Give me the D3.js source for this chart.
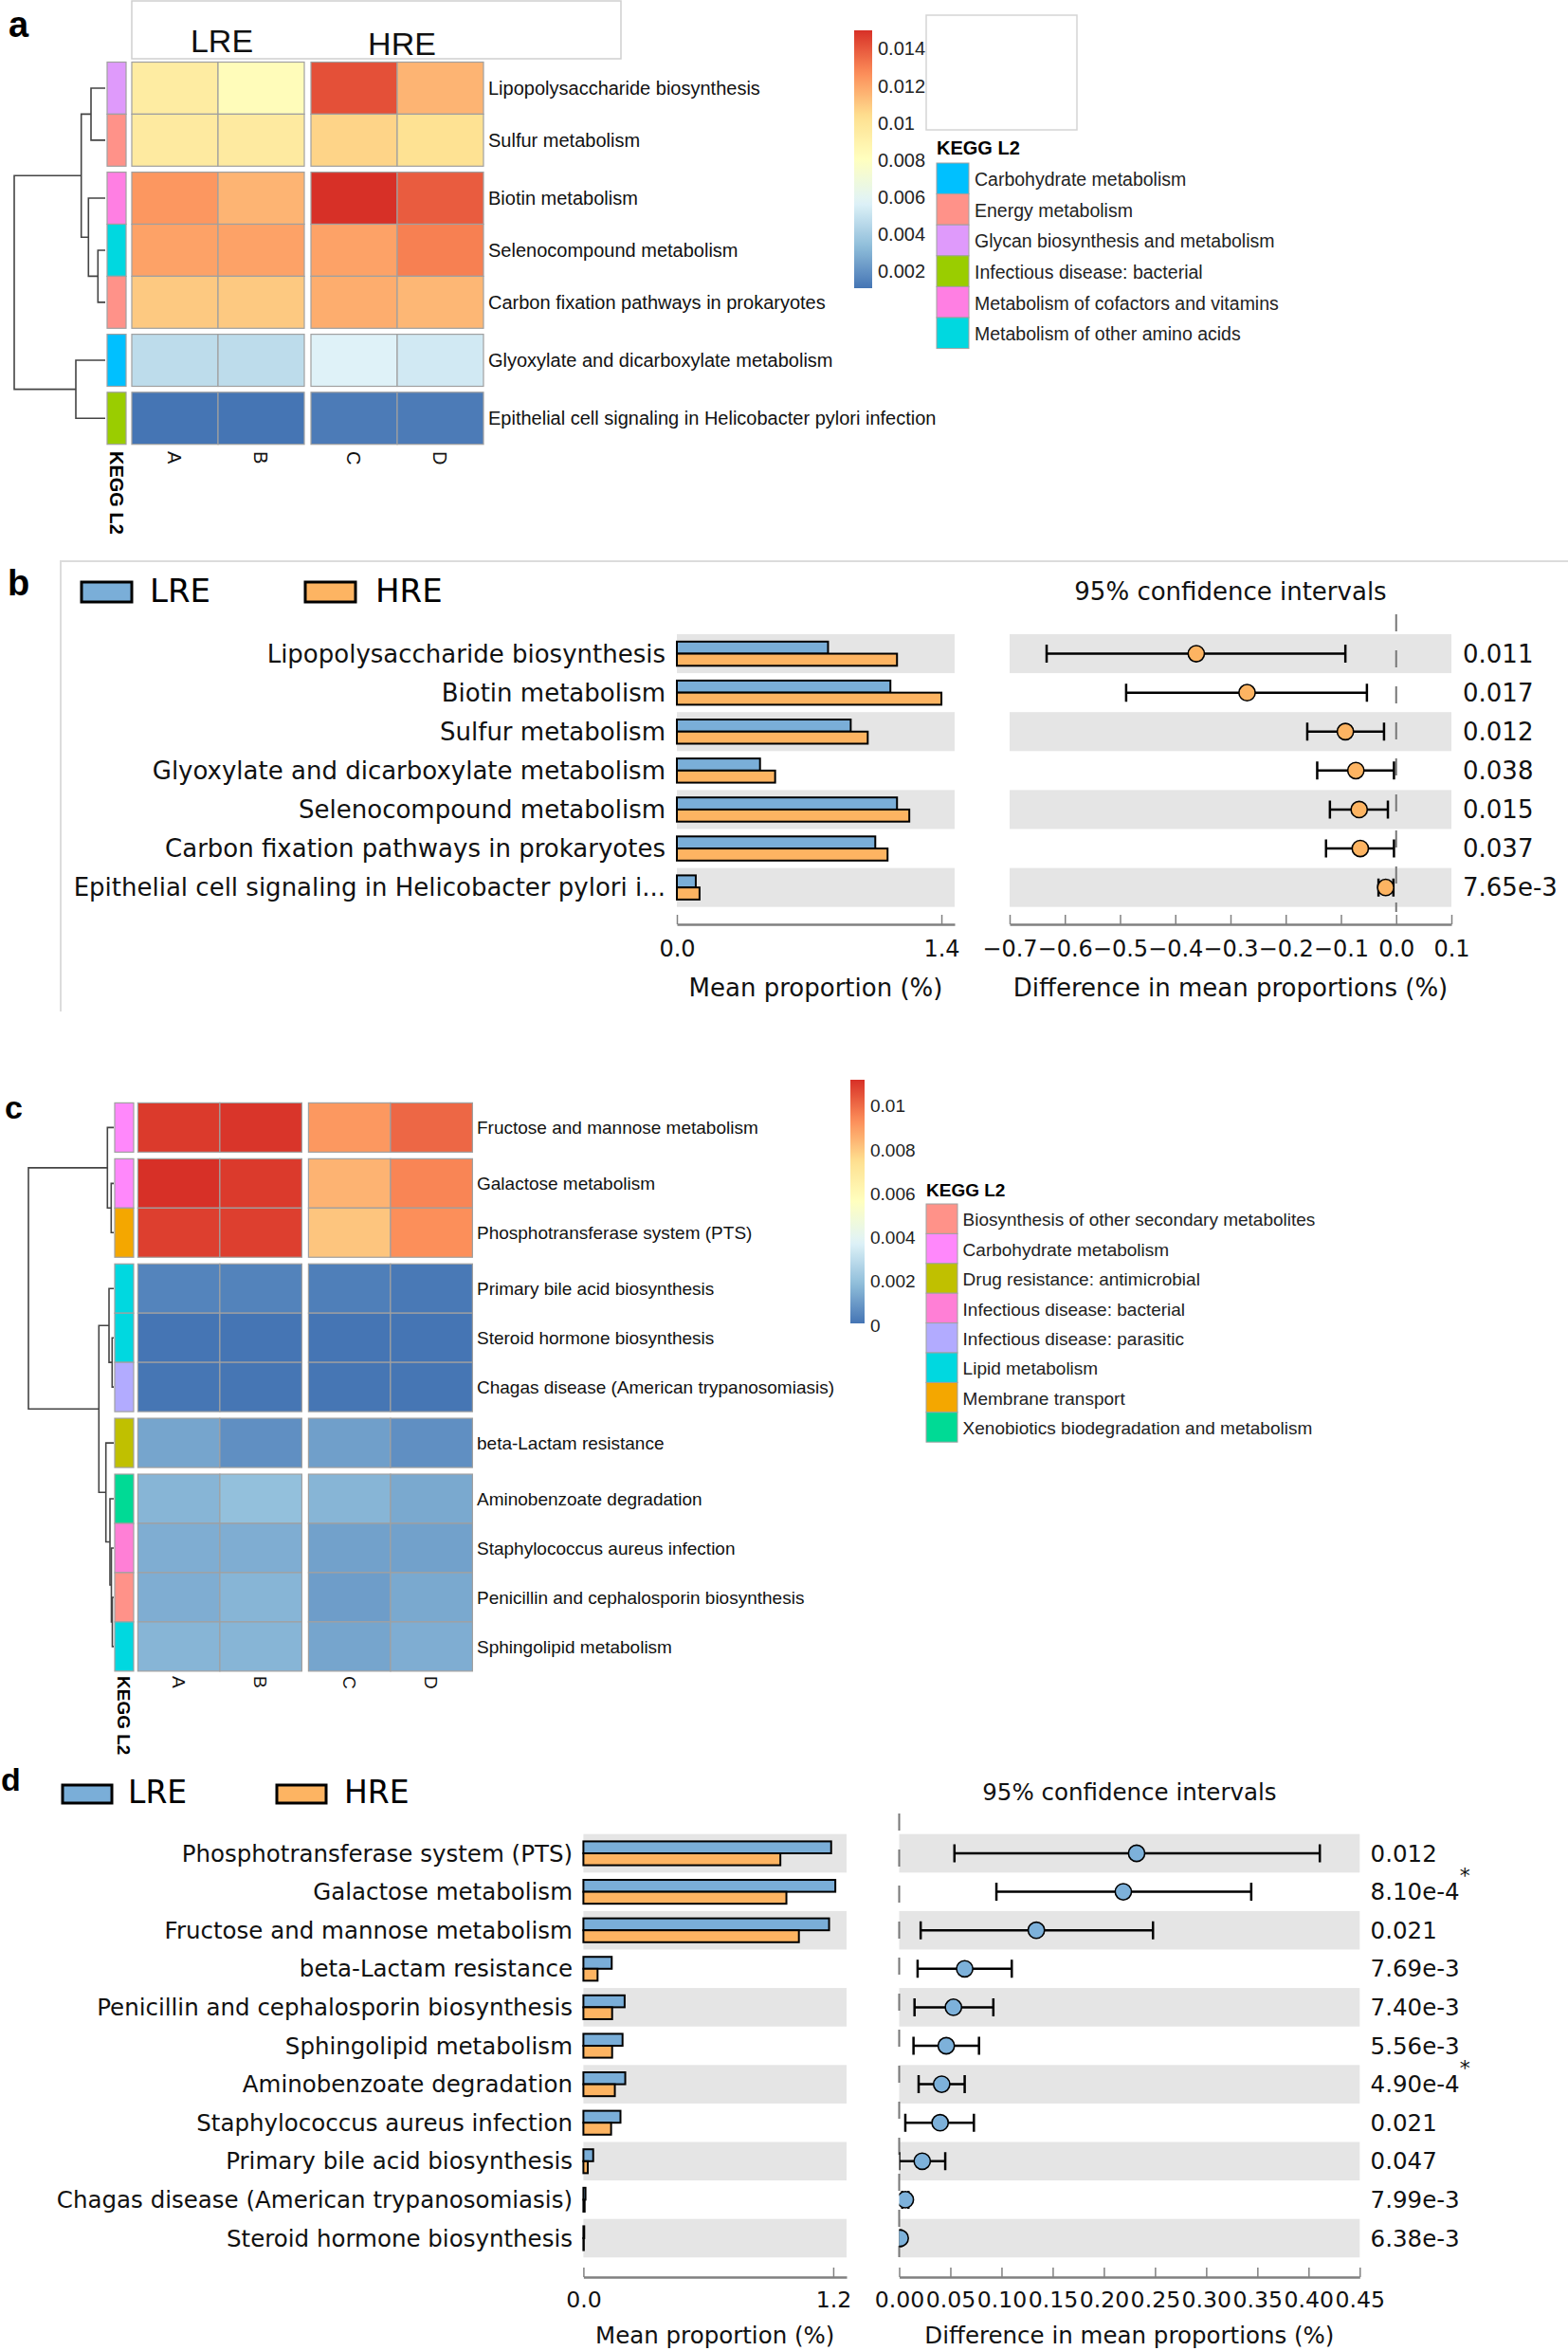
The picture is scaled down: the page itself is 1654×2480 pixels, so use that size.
<!DOCTYPE html>
<html><head><meta charset="utf-8">
<script src="https://cdn.jsdelivr.net/npm/d3@7"></script>
<style>html,body{margin:0;padding:0;background:#fff;} svg{display:block;}</style>
</head><body>
<svg id="fig" width="1654" height="2480"></svg>
<script>
// ================= DATA =================
const samples = ["A", "B", "C", "D"];
const groups = ["LRE", "HRE"];
const heatPalette = ["#4575B4", "#91BFDB", "#E0F3F8", "#FFFFBF", "#FEE090", "#FC8D59", "#D73027"];

// ---- panel a (heatmap) ----
const aPathways = ["Lipopolysaccharide biosynthesis", "Sulfur metabolism", "Biotin metabolism",
  "Selenocompound metabolism", "Carbon fixation pathways in prokaryotes",
  "Glyoxylate and dicarboxylate metabolism", "Epithelial cell signaling in Helicobacter pylori infection"];
const aValues = [
  [0.0095, 0.0083, 0.0142, 0.0116],
  [0.0096, 0.0096, 0.0107, 0.0102],
  [0.0124, 0.0116, 0.0150, 0.0139],
  [0.0121, 0.0121, 0.0121, 0.0130],
  [0.0110, 0.0110, 0.0118, 0.0115],
  [0.0047, 0.0047, 0.0057, 0.0053],
  [0.0011, 0.0011, 0.0013, 0.0013]
];
const aKeggCategories = ["Carbohydrate metabolism", "Energy metabolism", "Glycan biosynthesis and metabolism",
  "Infectious disease: bacterial", "Metabolism of cofactors and vitamins", "Metabolism of other amino acids"];
const aKeggColors = ["#00C0FF", "#FF9289", "#DF9AFB", "#9ACD00", "#FF7FE3", "#00D8E0"];
const aRowKegg = ["Glycan biosynthesis and metabolism", "Energy metabolism", "Metabolism of cofactors and vitamins",
  "Metabolism of other amino acids", "Energy metabolism", "Carbohydrate metabolism", "Infectious disease: bacterial"];
const aColorTicks = [0.002, 0.004, 0.006, 0.008, 0.01, 0.012, 0.014];
const aRowGaps = [2, 5, 6];
const aMerge = [[-4, -5], [-1, -2], [-3, 1], [2, 3], [-6, -7], [4, 5]];
const aMergeHeight = [7.7, 15, 17.7, 25.3, 31, 96];

// ---- panel c (heatmap) ----
const cPathways = ["Fructose and mannose metabolism", "Galactose metabolism", "Phosphotransferase system (PTS)",
  "Primary bile acid biosynthesis", "Steroid hormone biosynthesis", "Chagas disease (American trypanosomiasis)",
  "beta-Lactam resistance", "Aminobenzoate degradation", "Staphylococcus aureus infection",
  "Penicillin and cephalosporin biosynthesis", "Sphingolipid metabolism"];
const cValues = [
  [0.0110, 0.0111, 0.0091, 0.0101],
  [0.0112, 0.0110, 0.0085, 0.0095],
  [0.0109, 0.0109, 0.0081, 0.0093],
  [0.00047, 0.00045, 0.00035, 0.0002],
  [0.0001, 0.0001, 0.0001, 0.0001],
  [0.00012, 0.00012, 0.00012, 0.00012],
  [0.0013, 0.00075, 0.00115, 0.00075],
  [0.0017, 0.0020, 0.0017, 0.0014],
  [0.0015, 0.0015, 0.0012, 0.0012],
  [0.0015, 0.0017, 0.0011, 0.0014],
  [0.0017, 0.0017, 0.0013, 0.0015]
];
const cKeggCategories = ["Biosynthesis of other secondary metabolites", "Carbohydrate metabolism",
  "Drug resistance: antimicrobial", "Infectious disease: bacterial", "Infectious disease: parasitic",
  "Lipid metabolism", "Membrane transport", "Xenobiotics biodegradation and metabolism"];
const cKeggColors = ["#FF9289", "#FF88FB", "#C0C000", "#FF7FD6", "#B2ABFF", "#00D8E0", "#F4A700", "#00DA95"];
const cRowKegg = ["Carbohydrate metabolism", "Carbohydrate metabolism", "Membrane transport", "Lipid metabolism",
  "Lipid metabolism", "Infectious disease: parasitic", "Drug resistance: antimicrobial",
  "Xenobiotics biodegradation and metabolism", "Infectious disease: bacterial",
  "Biosynthesis of other secondary metabolites", "Lipid metabolism"];
const cColorTicks = [0, 0.002, 0.004, 0.006, 0.008, 0.01];
const cRowGaps = [1, 3, 6, 7];
const cMerge = [[-10, -11], [-5, -6], [-9, 1], [-2, -3], [-8, 3], [-4, 2], [-1, 4], [-7, 5], [6, 8], [7, 9]];
const cMergeHeight = [1.5, 1.7, 2.5, 2.7, 4, 5, 6.7, 8.3, 15.7, 90];

// ---- panel b (extended error bar) ----
const bPathways = ["Lipopolysaccharide biosynthesis", "Biotin metabolism", "Sulfur metabolism",
  "Glyoxylate and dicarboxylate metabolism", "Selenocompound metabolism",
  "Carbon fixation pathways in prokaryotes", "Epithelial cell signaling in Helicobacter pylori i..."];
const bLRE = [0.80, 1.13, 0.92, 0.44, 1.165, 1.05, 0.10];
const bHRE = [1.165, 1.40, 1.01, 0.52, 1.23, 1.115, 0.12];
const bDiff = [-0.362, -0.270, -0.092, -0.073, -0.067, -0.065, -0.019];
const bLow = [-0.633, -0.489, -0.161, -0.143, -0.120, -0.127, -0.032];
const bHigh = [-0.092, -0.053, -0.022, -0.004, -0.015, -0.004, -0.005];
const bP = ["0.011", "0.017", "0.012", "0.038", "0.015", "0.037", "7.65e-3"];
const bStar = [false, false, false, false, false, false, false];
const bBarTicks = [0, 1.4];
const bDiffTicks = [-0.7, -0.6, -0.5, -0.4, -0.3, -0.2, -0.1, 0, 0.1];

// ---- panel d (extended error bar) ----
const dPathways = ["Phosphotransferase system (PTS)", "Galactose metabolism", "Fructose and mannose metabolism",
  "beta-Lactam resistance", "Penicillin and cephalosporin biosynthesis", "Sphingolipid metabolism",
  "Aminobenzoate degradation", "Staphylococcus aureus infection", "Primary bile acid biosynthesis",
  "Chagas disease (American trypanosomiasis)", "Steroid hormone biosynthesis"];
const dLRE = [1.19, 1.21, 1.18, 0.136, 0.198, 0.188, 0.201, 0.178, 0.047, 0.010, 0.004];
const dHRE = [0.946, 0.975, 1.035, 0.068, 0.138, 0.138, 0.151, 0.133, 0.021, 0.006, 0.002];
const dDiff = [0.232, 0.219, 0.134, 0.064, 0.053, 0.046, 0.0415, 0.040, 0.0225, 0.006, 0.001];
const dLow = [0.054, 0.095, 0.021, 0.018, 0.015, 0.014, 0.019, 0.006, 0.0, 0.003, 0.0];
const dHigh = [0.411, 0.344, 0.248, 0.110, 0.092, 0.078, 0.064, 0.073, 0.045, 0.009, 0.002];
const dP = ["0.012", "8.10e-4", "0.021", "7.69e-3", "7.40e-3", "5.56e-3", "4.90e-4", "0.021", "0.047", "7.99e-3", "6.38e-3"];
const dStar = [false, true, false, false, false, false, true, false, false, false, false];
const dBarTicks = [0, 1.2];
const dDiffTicks = [0, 0.05, 0.1, 0.15, 0.2, 0.25, 0.3, 0.35, 0.4, 0.45];

// ================= DRAWING =================
const svg = d3.select("#fig");
svg.append("rect").attr("width", 1654).attr("height", 2480).attr("fill", "#fff");
const defs = svg.append("defs");
const ARIAL = "'Liberation Sans', Arial, sans-serif";
const DEJAVU = "'DejaVu Sans', sans-serif";

function panelLetter(t, x, y, fs) {
  svg.append("text").attr("x", x).attr("y", y).attr("font-family", ARIAL).attr("font-weight", "bold")
    .attr("font-size", fs).attr("fill", "#000").text(t);
}

function drawHeatmap(id, o) {
  const g = svg.append("g").attr("id", id);
  const gapsBefore = i => o.gaps.filter(k => k <= i).length;
  const yTop = i => o.top + i * o.rowH + gapsBefore(i) * o.gapH;
  const yMid = i => yTop(i) + o.rowH / 2;
  const xLeft = j => o.left + j * o.colW + (j >= 2 ? o.colGap : 0);
  const ext = d3.extent(o.values.flat());
  const stops = d3.range(heatPalette.length).map(k => ext[0] + k * (ext[1] - ext[0]) / (heatPalette.length - 1));
  const color = d3.scaleLinear().domain(stops).range(heatPalette).interpolate(d3.interpolateRgb);
  const kegg = d3.scaleOrdinal().domain(o.keggCats).range(o.keggColors);

  const cells = [];
  o.values.forEach((row, i) => row.forEach((v, j) => cells.push({ i, j, v })));
  g.selectAll("rect.cell").data(cells).join("rect").attr("class", "cell")
    .attr("x", d => xLeft(d.j)).attr("y", d => yTop(d.i))
    .attr("width", o.colW).attr("height", o.rowH)
    .attr("fill", d => color(d.v)).attr("stroke", "#a0a0a0").attr("stroke-width", 1.2);

  g.selectAll("rect.ann").data(o.rowKegg).join("rect").attr("class", "ann")
    .attr("x", o.stripX).attr("y", (d, i) => yTop(i)).attr("width", o.stripW).attr("height", o.rowH)
    .attr("fill", d => kegg(d)).attr("stroke", "#a0a0a0").attr("stroke-width", 1.2);

  g.selectAll("text.rl").data(o.rows).join("text").attr("class", "rl")
    .attr("x", o.labelX).attr("y", (d, i) => yMid(i)).attr("dy", "0.36em")
    .attr("font-family", ARIAL).attr("font-size", o.fs).attr("fill", "#111").text(d => d);

  g.selectAll("text.cl").data(samples).join("text").attr("class", "cl")
    .attr("transform", (d, j) => `translate(${xLeft(j) + o.colW / 2},${o.colLabelY}) rotate(90)`)
    .attr("dy", "0.36em").attr("font-family", ARIAL).attr("font-size", o.fs).attr("fill", "#111").text(d => d);
  g.append("text")
    .attr("transform", `translate(${o.stripX + o.stripW / 2},${o.colLabelY}) rotate(90)`)
    .attr("dy", "0.36em").attr("font-family", ARIAL).attr("font-weight", "bold")
    .attr("font-size", o.fs).attr("fill", "#000").text("KEGG L2");

  const hx = d3.scaleLinear().domain([0, d3.max(o.heights)]).range([o.leafX, o.rootX]);
  const nodes = [];
  const pos = c => c < 0 ? { x: o.leafX, y: yMid(-c - 1) } : nodes[c - 1];
  const lines = [];
  o.merge.forEach((m, k) => {
    const a = pos(m[0]), b = pos(m[1]);
    const x = hx(o.heights[k]);
    nodes.push({ x, y: (a.y + b.y) / 2 });
    lines.push(`M${a.x},${a.y}H${x}V${b.y}H${b.x}`);
  });
  g.selectAll("path.dend").data(lines).join("path").attr("class", "dend")
    .attr("d", d => d).attr("fill", "none").attr("stroke", "#444").attr("stroke-width", 1.6);

  const cb = o.cbar;
  const cy = d3.scaleLinear().domain(ext).range([cb.bottom, cb.top]);
  const grad = defs.append("linearGradient").attr("id", id + "grad")
    .attr("x1", 0).attr("y1", 1).attr("x2", 0).attr("y2", 0);
  grad.selectAll("stop").data(d3.range(41)).join("stop")
    .attr("offset", k => k / 40)
    .attr("stop-color", k => color(ext[0] + (ext[1] - ext[0]) * k / 40));
  g.append("rect").attr("x", cb.x).attr("y", cb.top).attr("width", cb.w).attr("height", cb.bottom - cb.top)
    .attr("fill", `url(#${id}grad)`);
  g.selectAll("text.cbt").data(o.ticks).join("text").attr("class", "cbt")
    .attr("x", cb.x + cb.w + 6).attr("y", d => cy(d)).attr("dy", "0.34em")
    .attr("font-family", ARIAL).attr("font-size", o.fs).attr("fill", "#222").text(d => String(d));

  const L = o.legend;
  g.append("text").attr("x", L.x).attr("y", L.titleY).attr("font-family", ARIAL).attr("font-weight", "bold")
    .attr("font-size", o.fs).attr("fill", "#000").text("KEGG L2");
  g.selectAll("rect.lg").data(o.keggCats).join("rect").attr("class", "lg")
    .attr("x", L.x).attr("y", (d, i) => L.top + i * L.itemH).attr("width", L.swW).attr("height", L.itemH)
    .attr("fill", d => kegg(d)).attr("stroke", "#a0a0a0").attr("stroke-width", 1);
  g.selectAll("text.lgt").data(o.keggCats).join("text").attr("class", "lgt")
    .attr("x", L.labelX).attr("y", (d, i) => L.top + (i + 0.5) * L.itemH).attr("dy", "0.4em")
    .attr("font-family", ARIAL).attr("font-size", L.fs).attr("fill", "#222").text(d => d);
  return g;
}

function drawStamp(id, o) {
  const g = svg.append("g").attr("id", id);
  const n = o.rows.length;
  const y = d3.scaleBand().domain(d3.range(n)).range([o.top, o.top + n * o.rowH]).padding(0);
  const xb = d3.scaleLinear().domain(o.barDomain).range(o.barRange);
  const xd = d3.scaleLinear().domain(o.diffDomain).range(o.diffRange);
  const mid = i => y(i) + y.bandwidth() / 2;
  const bh = y.bandwidth() * 0.31;
  const alt = d3.range(n).filter(i => i % 2 === 0);

  groups.forEach((grp, k) => {
    g.append("rect").attr("x", o.legend.swX[k]).attr("y", o.legend.y - o.legend.swH)
      .attr("width", o.legend.swW).attr("height", o.legend.swH)
      .attr("fill", k === 0 ? o.colLRE : o.colHRE).attr("stroke", "#000").attr("stroke-width", 3);
    g.append("text").attr("x", o.legend.txtX[k]).attr("y", o.legend.y)
      .attr("font-family", DEJAVU).attr("font-size", o.legend.fs).attr("fill", "#000").text(grp);
  });

  g.selectAll("rect.bgb").data(alt).join("rect").attr("class", "bgb")
    .attr("x", o.barRange[0]).attr("y", i => y(i)).attr("width", o.barRange[1] - o.barRange[0])
    .attr("height", y.bandwidth()).attr("fill", "#e5e5e5");
  g.selectAll("rect.bgd").data(alt).join("rect").attr("class", "bgd")
    .attr("x", o.diffRange[0]).attr("y", i => y(i)).attr("width", o.diffRange[1] - o.diffRange[0])
    .attr("height", y.bandwidth()).attr("fill", "#e5e5e5");

  g.selectAll("rect.lre").data(o.lre).join("rect").attr("class", "lre")
    .attr("x", xb(0)).attr("y", (d, i) => mid(i) - bh).attr("width", d => xb(d) - xb(0)).attr("height", bh)
    .attr("fill", o.colLRE).attr("stroke", "#000").attr("stroke-width", 2);
  g.selectAll("rect.hre").data(o.hre).join("rect").attr("class", "hre")
    .attr("x", xb(0)).attr("y", (d, i) => mid(i)).attr("width", d => xb(d) - xb(0)).attr("height", bh)
    .attr("fill", o.colHRE).attr("stroke", "#000").attr("stroke-width", 2);

  g.selectAll("text.rl").data(o.rows).join("text").attr("class", "rl")
    .attr("x", o.labelX).attr("y", (d, i) => mid(i)).attr("dy", "0.35em").attr("text-anchor", "end")
    .attr("font-family", DEJAVU).attr("font-size", o.fs).attr("fill", "#111").text(d => d);

  g.append("line").attr("x1", xd(0)).attr("x2", xd(0)).attr("y1", o.zeroTop).attr("y2", o.zeroBottom)
    .attr("stroke", "#777").attr("stroke-width", 2).attr("stroke-dasharray", "18,20");

  defs.append("clipPath").attr("id", id + "clip").append("rect")
    .attr("x", o.diffRange[0]).attr("y", o.top - 20).attr("width", o.diffRange[1] - o.diffRange[0])
    .attr("height", n * o.rowH + 40);
  const cg = g.append("g").attr("clip-path", `url(#${id}clip)`);
  const ci = d3.range(n).map(i => ({ i, lo: o.low[i], hi: o.high[i], d: o.diff[i] }));
  cg.selectAll("path.ci").data(ci).join("path").attr("class", "ci")
    .attr("d", c => `M${xd(c.lo)},${mid(c.i) - 9.5}V${mid(c.i) + 9.5}M${xd(c.lo)},${mid(c.i)}H${xd(c.hi)}M${xd(c.hi)},${mid(c.i) - 9.5}V${mid(c.i) + 9.5}`)
    .attr("fill", "none").attr("stroke", "#000").attr("stroke-width", 2.5);
  cg.selectAll("circle.dot").data(ci).join("circle").attr("class", "dot")
    .attr("cx", c => xd(c.d)).attr("cy", c => mid(c.i)).attr("r", 8.6)
    .attr("fill", o.dotFill).attr("stroke", "#000").attr("stroke-width", 1.6);

  const pt = g.selectAll("text.pv").data(o.p).join("text").attr("class", "pv")
    .attr("x", o.pX).attr("y", (d, i) => mid(i)).attr("dy", "0.35em")
    .attr("font-family", DEJAVU).attr("font-size", o.fs).attr("fill", "#111").text(d => d);
  pt.filter((d, i) => o.star[i]).append("tspan").attr("dy", -18).attr("font-size", o.fs * 0.9).text("*");

  const styleAxis = (sel) => {
    sel.select(".domain").attr("stroke", "#808080").attr("stroke-width", 2.5);
    sel.selectAll(".tick line").attr("stroke", "#808080").attr("stroke-width", 1.5);
    sel.selectAll(".tick text").attr("font-family", DEJAVU).attr("font-size", o.tickFs).attr("fill", "#111");
  };
  g.append("g").attr("transform", `translate(0,${o.axisY})`)
    .call(d3.axisBottom(xb).tickValues(o.barTicks).tickFormat(d3.format(".1f")).tickSize(-10).tickSizeOuter(0).tickPadding(o.tickPad))
    .call(styleAxis);
  g.append("g").attr("transform", `translate(0,${o.axisY})`)
    .call(d3.axisBottom(xd).tickValues(o.diffTicks).tickFormat(d3.format(o.diffFmt)).tickSize(-10).tickSizeOuter(0).tickPadding(o.tickPad))
    .call(styleAxis);

  g.append("text").attr("x", (o.barRange[0] + o.barRange[1]) / 2).attr("y", o.titleY).attr("text-anchor", "middle")
    .attr("font-family", DEJAVU).attr("font-size", o.fs).attr("fill", "#111").text("Mean proportion (%)");
  g.append("text").attr("x", (o.diffRange[0] + o.diffRange[1]) / 2).attr("y", o.titleY).attr("text-anchor", "middle")
    .attr("font-family", DEJAVU).attr("font-size", o.fs).attr("fill", "#111").text("Difference in mean proportions (%)");
  g.append("text").attr("x", (o.diffRange[0] + o.diffRange[1]) / 2).attr("y", o.ciTitleY).attr("text-anchor", "middle")
    .attr("font-family", DEJAVU).attr("font-size", o.fs).attr("fill", "#111").text("95% confidence intervals");
  return g;
}

// ----- panel a -----
panelLetter("a", 9, 39, 38);
svg.append("rect").attr("x", 139).attr("y", 1).attr("width", 516).attr("height", 61)
  .attr("fill", "none").attr("stroke", "#cfcfcf").attr("stroke-width", 1.5);
svg.append("text").attr("x", 234).attr("y", 55).attr("text-anchor", "middle").attr("font-family", ARIAL)
  .attr("font-size", 34).attr("fill", "#111").text(groups[0]);
svg.append("text").attr("x", 424).attr("y", 58).attr("text-anchor", "middle").attr("font-family", ARIAL)
  .attr("font-size", 34).attr("fill", "#111").text(groups[1]);
svg.append("rect").attr("x", 977).attr("y", 16).attr("width", 159).attr("height", 121)
  .attr("fill", "none").attr("stroke", "#d5d5d5").attr("stroke-width", 1.5);

drawHeatmap("heatA", {
  rows: aPathways, values: aValues, rowKegg: aRowKegg, keggCats: aKeggCategories, keggColors: aKeggColors,
  gaps: aRowGaps, merge: aMerge, heights: aMergeHeight, ticks: aColorTicks,
  top: 65.5, rowH: 54.9, gapH: 6.3, left: 139, colW: 91, colGap: 7,
  stripX: 113, stripW: 20, leafX: 111, rootX: 15, labelX: 515, fs: 20, colLabelY: 476,
  cbar: { x: 901, w: 19, top: 32, bottom: 304 },
  legend: { x: 988, titleY: 163, top: 172, itemH: 32.6, swW: 34, labelX: 1028, fs: 19.5 }
});

// ----- panel b -----
svg.append("path").attr("d", "M64,1067V592H1654").attr("fill", "none").attr("stroke", "#dcdcdc").attr("stroke-width", 2);
panelLetter("b", 8, 628, 38);
drawStamp("stampB", {
  rows: bPathways, lre: bLRE, hre: bHRE, diff: bDiff, low: bLow, high: bHigh, p: bP, star: bStar,
  top: 669, rowH: 41.1, barDomain: [0, 1.47], barRange: [714, 1007], barTicks: bBarTicks,
  diffDomain: [-0.7, 0.1], diffRange: [1065, 1531], diffTicks: bDiffTicks, diffFmt: ".1f",
  axisY: 975, tickPad: 17, tickFs: 24, fs: 26, labelX: 702, pX: 1543,
  titleY: 1051, ciTitleY: 633, zeroTop: 648, zeroBottom: 962,
  colLRE: "#7AAED8", colHRE: "#FDB462", dotFill: "#FDB462",
  legend: { y: 635, swH: 21, swW: 53, swX: [86, 322], txtX: [158, 396], fs: 34 }
});

// ----- panel c -----
panelLetter("c", 5, 1180, 34);
drawHeatmap("heatC", {
  rows: cPathways, values: cValues, rowKegg: cRowKegg, keggCats: cKeggCategories, keggColors: cKeggColors,
  gaps: cRowGaps, merge: cMerge, heights: cMergeHeight, ticks: cColorTicks,
  top: 1163.4, rowH: 51.95, gapH: 7, left: 145.4, colW: 86.5, colGap: 7,
  stripX: 121, stripW: 20, leafX: 120, rootX: 30, labelX: 503, fs: 19, colLabelY: 1768,
  cbar: { x: 897, w: 15, top: 1139, bottom: 1396 },
  legend: { x: 977, titleY: 1262, top: 1270, itemH: 31.4, swW: 33, labelX: 1015.6, fs: 19 }
});

// ----- panel d -----
panelLetter("d", 1, 1889, 34);
drawStamp("stampD", {
  rows: dPathways, lre: dLRE, hre: dHRE, diff: dDiff, low: dLow, high: dHigh, p: dP, star: dStar,
  top: 1934.7, rowH: 40.6, barDomain: [0, 1.264], barRange: [615.4, 893], barTicks: dBarTicks,
  diffDomain: [0, 0.45], diffRange: [948.5, 1434.3], diffTicks: dDiffTicks, diffFmt: ".2f",
  axisY: 2402, tickPad: 15, tickFs: 23.6, fs: 24.5, labelX: 604, pX: 1445.6,
  titleY: 2472, ciTitleY: 1899, zeroTop: 1913, zeroBottom: 2381,
  colLRE: "#7AAED8", colHRE: "#FDB462", dotFill: "#7DB1DA",
  legend: { y: 1902, swH: 19, swW: 52, swX: [66, 292], txtX: [135, 363], fs: 33 }
});
</script>
</body></html>
